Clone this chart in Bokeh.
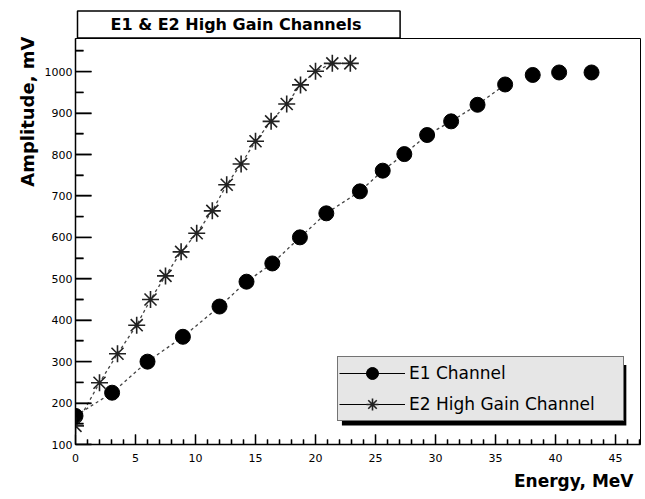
import math
from bokeh.plotting import figure
from bokeh.models import (ColumnDataSource, FixedTicker, Legend, LegendItem,
                          BoxAnnotation, Range1d, Title)
from bokeh.embed import file_html
from bokeh.resources import INLINE

# ---- data ----
e1_energy = [0.0, 3.05, 6.0, 8.95, 12.0, 14.25, 16.4, 18.7, 20.9, 23.7, 25.6,
             27.4, 29.3, 31.3, 33.5, 35.8, 38.1, 40.3, 43.0]
e1_amp = [169, 225, 300, 360, 433, 493, 537, 600, 658, 711, 761,
          801, 847, 880, 920, 969, 992, 998, 998]
e1_line_count = 16  # dashed connecting line stops at the 16th point

e2_energy = [0.0, 2.0, 3.5, 5.1, 6.25, 7.5, 8.8, 10.1, 11.4, 12.6, 13.8,
             15.0, 16.3, 17.6, 18.75, 20.0, 21.4, 22.9]
e2_amp = [145, 249, 319, 388, 450, 507, 565, 610, 664, 727, 777,
          832, 880, 922, 968, 1001, 1020, 1020]

x_ticks = [0, 5, 10, 15, 20, 25, 30, 35, 40, 45]
x_minor = [v for v in range(0, 48) if v % 5 != 0]
y_ticks = [100, 200, 300, 400, 500, 600, 700, 800, 900, 1000]
y_minor = [150, 250, 350, 450, 550, 650, 750, 850, 950, 1050]

title_text = "E1 & E2 High Gain  Channels"
x_title = "Energy, MeV"
y_title = "Amplitude, mV"
series_labels = ["E1 Channel", "E2 High Gain Channel"]

FONT = "DejaVu Sans"
X0, X1 = 0, 47.08
Y0, Y1 = 100, 1080

p = figure(width=645, height=499, output_backend="svg", toolbar_location=None,
           x_range=Range1d(X0, X1), y_range=Range1d(Y0, Y1))
p.min_border_left = 75
p.min_border_right = 5
p.min_border_top = 38
p.min_border_bottom = 55
p.background_fill_color = "white"
p.border_fill_color = "white"
p.outline_line_color = "black"
p.outline_line_width = 1
p.xgrid.visible = False
p.ygrid.visible = False

# axes
xa = p.xaxis[0]
xa.ticker = FixedTicker(ticks=x_ticks, minor_ticks=x_minor)
xa.major_tick_in = 10
xa.major_tick_out = 0
xa.minor_tick_in = 5
xa.minor_tick_out = 0
xa.major_tick_line_width = 1.3
xa.minor_tick_line_width = 1.3
xa.major_label_standoff = 9
xa.major_label_text_font = FONT
xa.major_label_text_font_size = "11px"
xa.major_label_text_color = "black"
xa.axis_line_color = "black"
xa.axis_line_width = 1.5

ya = p.yaxis[0]
ya.ticker = FixedTicker(ticks=y_ticks, minor_ticks=y_minor)
ya.major_tick_in = 16
ya.major_tick_out = 0
ya.minor_tick_in = 8
ya.minor_tick_out = 0
ya.major_tick_line_width = 1.3
ya.minor_tick_line_width = 1.3
ya.major_label_standoff = 3
ya.major_label_text_font = FONT
ya.major_label_text_font_size = "11px"
ya.major_label_text_color = "black"
ya.axis_line_color = "black"
ya.axis_line_width = 1.5

# inward tick marks drawn from the tick arrays (px lengths converted to data units)
px_x = (X1 - X0) / 565.0   # data units per pixel horizontally
px_y = (Y1 - Y0) / 406.0   # data units per pixel vertically
p.segment(x0=[X0] * len(y_ticks), x1=[X0 + 16 * px_x] * len(y_ticks), y0=y_ticks, y1=y_ticks,
          line_color="black", line_width=1.3)
p.segment(x0=[X0] * len(y_minor), x1=[X0 + 8 * px_x] * len(y_minor), y0=y_minor, y1=y_minor,
          line_color="black", line_width=1.3)
p.segment(x0=x_ticks, x1=x_ticks, y0=[Y0] * len(x_ticks), y1=[Y0 + 10 * px_y] * len(x_ticks),
          line_color="black", line_width=1.3)
p.segment(x0=x_minor, x1=x_minor, y0=[Y0] * len(x_minor), y1=[Y0 + 5 * px_y] * len(x_minor),
          line_color="black", line_width=1.3)

# sources
src1 = ColumnDataSource(data=dict(x=e1_energy, y=e1_amp))
src1_line = ColumnDataSource(data=dict(x=e1_energy[:e1_line_count], y=e1_amp[:e1_line_count]))
src2 = ColumnDataSource(data=dict(x=e2_energy, y=e2_amp))

# dashed connecting lines
p.line("x", "y", source=src1_line, line_color="#444444", line_width=1.3, line_dash="3 3")
p.line("x", "y", source=src2, line_color="#444444", line_width=1.3, line_dash="3 3")

# markers
r1 = p.scatter("x", "y", source=src1, marker="circle", size=15,
               fill_color="black", line_color="black")
r2 = p.scatter("x", "y", source=src2, marker="asterisk", size=17,
               line_color="#222222", line_width=1.6)

# solid lines used only for the legend glyphs (no visible points in the plot)
leg_src = ColumnDataSource(data=dict(x=[float("nan")], y=[float("nan")]))
l1 = p.line("x", "y", source=leg_src, line_color="black", line_width=1)
l2 = p.line("x", "y", source=leg_src, line_color="black", line_width=1)

# legend shadow
shadow = BoxAnnotation(left=22.2, right=45.9, top=292, bottom=146,
                       fill_color="black", fill_alpha=1, line_color=None)
p.add_layout(shadow)

legend = Legend(items=[LegendItem(label=series_labels[0], renderers=[l1, r1]),
                       LegendItem(label=series_labels[1], renderers=[l2, r2])],
                location=(262, 23))
legend.background_fill_color = "#e6e6e6"
legend.background_fill_alpha = 1
legend.border_line_color = "black"
legend.border_line_width = 1
legend.label_text_font = FONT
legend.label_text_font_size = "17px"
legend.label_text_color = "black"
legend.glyph_width = 66
legend.glyph_height = 30
legend.label_height = 30
legend.label_width = 213
legend.label_standoff = 4
legend.spacing = 1
legend.padding = 1
legend.margin = 0
p.add_layout(legend, "center")

# chart title box
t = Title(text=title_text, align="left", offset=2, standoff=1,
          text_font=FONT, text_font_style="bold", text_font_size="16px",
          text_color="black", background_fill_color="white",
          border_line_color="black", border_line_width=1.5,
          padding=dict(left=33, right=33, top=4, bottom=4))
p.add_layout(t, "above")

# axis titles (right/top aligned as in the reference)
tx = Title(text=x_title, align="right", offset=7, standoff=8,
           text_font=FONT, text_font_style="bold", text_font_size="17px",
           text_color="black")
p.add_layout(tx, "below")
ty = Title(text=y_title, align="right", offset=-2, standoff=8,
           text_font=FONT, text_font_style="bold", text_font_size="18px",
           text_color="black")
p.add_layout(ty, "left")

open("out.html", "w").write(file_html(p, INLINE))
